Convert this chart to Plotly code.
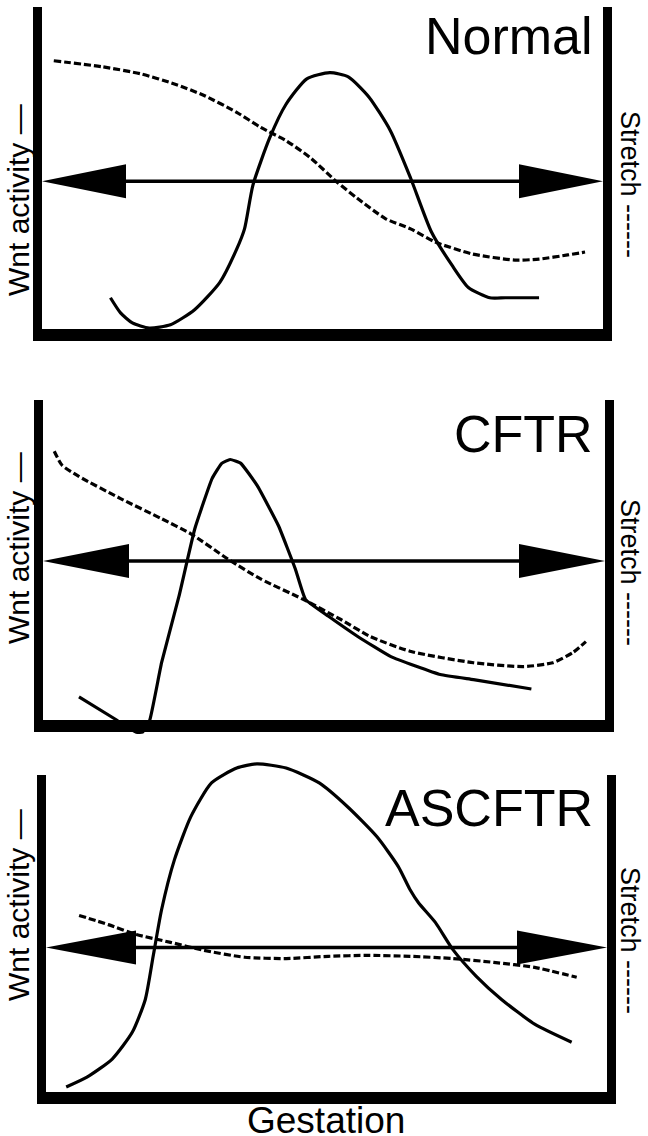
import plotly.graph_objects as go

W, H = 648, 1136
FONT = "Liberation Sans, Arial, sans-serif"

# ---------------- data (gestation 0-100, level 0-100 inside each frame) -------------
titles = ["Normal", "CFTR", "ASCFTR"]
y_label = "Wnt activity \u2014"
y2_label = "Stretch ------"
x_label = "Gestation"

normal_wnt_x = [12.2, 14.0, 16.1, 19.1, 22.9, 27.2, 31.7, 34.7, 36.1, 37.6, 40.6, 43.5, 47.2,
                51.3, 54.6, 58.3, 62.1, 65.7, 69.4, 73.2, 76.0, 79.8, 82.6, 88.6]
normal_wnt_y = [9.7, 5.0, 1.9, 0.3, 1.3, 6.0, 14.5, 24.8, 31.1, 44.7, 59.4, 69.8, 77.7,
                79.6, 78.3, 72.0, 61.6, 46.9, 30.2, 19.5, 12.9, 9.7, 9.7, 9.7]
normal_stretch_x = [2.1, 10.9, 17.7, 23.6, 28.8, 34.7, 39.0, 43.5, 47.9, 52.4, 56.2, 61.2,
                    65.7, 70.1, 76.7, 84.3, 88.6, 93.7, 96.8]
normal_stretch_y = [83.3, 81.4, 79.2, 76.1, 72.6, 67.3, 62.6, 58.5, 53.1, 45.9, 40.6, 34.3,
                    31.1, 27.0, 23.3, 21.4, 21.7, 23.0, 23.9]

cftr_wnt_x = [6.4, 13.1, 16.6, 17.7, 19.0, 21.1, 24.2, 27.0, 30.1, 31.8, 33.3, 35.2, 38.1,
              41.9, 44.9, 46.7, 50.8, 56.0, 61.9, 70.7, 76.6, 86.9]
cftr_wnt_y = [7.2, 0.0, -3.8, -3.8, 0.0, 17.9, 38.7, 59.7, 75.5, 80.2, 81.4, 80.2, 73.3,
              60.7, 47.2, 37.7, 32.4, 26.1, 19.8, 14.2, 12.6, 9.7]
cftr_stretch_x = [2.0, 3.4, 6.4, 13.8, 21.1, 26.3, 32.9, 38.8, 46.3, 53.0, 58.2, 65.5,
                  76.6, 85.5, 90.7, 94.3, 96.6]
cftr_stretch_y = [84.0, 79.6, 76.1, 69.2, 62.9, 58.2, 50.3, 44.0, 37.7, 31.4, 26.1, 21.4,
                  17.9, 16.7, 17.9, 21.1, 24.5]

ascftr_wnt_x = [3.6, 7.3, 11.8, 15.4, 17.7, 19.1, 20.6, 22.9, 25.8, 29.5, 34.0, 37.6, 42.8,
                48.7, 53.8, 59.0, 62.8, 64.9, 66.4, 69.4, 72.5, 76.7, 81.2, 87.1, 93.7]
ascftr_wnt_y = [1.6, 4.7, 10.4, 18.9, 29.2, 42.8, 57.5, 73.3, 86.8, 97.5, 102.2, 103.5, 102.2,
                97.5, 89.9, 80.5, 71.1, 63.8, 59.7, 53.5, 45.0, 36.5, 29.2, 21.4, 15.7]
ascftr_stretch_x = [5.9, 11.1, 16.1, 22.2, 28.1, 35.4, 42.8, 50.3, 57.6, 64.9, 72.5, 79.8,
                    87.1, 94.6]
ascftr_stretch_y = [55.7, 52.8, 49.7, 47.2, 44.7, 42.5, 42.1, 42.8, 43.1, 42.8, 42.1, 40.9,
                    39.3, 36.2]

arrow_levels = [45.9, 49.7, 45.6]

wnt_x = [normal_wnt_x, cftr_wnt_x, ascftr_wnt_x]
wnt_y = [normal_wnt_y, cftr_wnt_y, ascftr_wnt_y]
str_x = [normal_stretch_x, cftr_stretch_x, ascftr_stretch_x]
str_y = [normal_stretch_y, cftr_stretch_y, ascftr_stretch_y]

# ---------------- layout geometry (pixels) -------------
boxes = [(42, 603, 7, 329), (43, 605, 400, 720), (46, 607, 775, 1092)]  # L,R,T,B inner
bands = [(0, 364), (368, 750), (752, 1106)]
bar_w, bar_b = 9, 12
head_len = [84, 86, 90]
head_half = 17
wnt_label_y = [200, 548, 905]
str_label_y = [184, 572, 940]
title_y = [36, 434, 808]

fig = go.Figure()
shapes, annotations = [], []

for i in range(3):
    L, R, T, B = boxes[i]
    sx, sy = (R - L) / 100.0, (B - T) / 100.0
    top, bot = bands[i]
    xa = "xaxis" if i == 0 else f"xaxis{i+1}"
    ya = "yaxis" if i == 0 else f"yaxis{i+1}"
    xr = "x" if i == 0 else f"x{i+1}"
    yr = "y" if i == 0 else f"y{i+1}"
    fig.update_layout({
        xa: dict(domain=[0, 1], range=[(0 - L) / sx, (W - L) / sx], visible=False,
                 anchor=yr, fixedrange=True),
        ya: dict(domain=[1 - bot / H, 1 - top / H], range=[(B - bot) / sy, (B - top) / sy],
                 visible=False, anchor=xr, fixedrange=True),
    })
    fig.add_trace(go.Scatter(x=str_x[i], y=str_y[i], mode="lines", xaxis=xr, yaxis=yr,
                             line=dict(color="black", width=3.2, dash="7px,3px",
                                       shape="spline", smoothing=0.6),
                             showlegend=False, hoverinfo="skip"))
    fig.add_trace(go.Scatter(x=wnt_x[i], y=wnt_y[i], mode="lines", xaxis=xr, yaxis=yr,
                             line=dict(color="black", width=3.2, shape="spline",
                                       smoothing=0.6 if i != 1 else 0.35),
                             showlegend=False, hoverinfo="skip"))
    a = arrow_levels[i]
    hx = head_len[i] / sx
    hy = head_half / sy
    shapes.append(dict(type="line", xref=xr, yref=yr, x0=hx * 0.5, x1=100 - hx * 0.5, y0=a, y1=a,
                       line=dict(color="black", width=3.5)))
    shapes.append(dict(type="path", xref=xr, yref=yr,
                       path=f"M 0,{a} L {hx},{a+hy} L {hx},{a-hy} Z",
                       fillcolor="black", line=dict(width=0)))
    shapes.append(dict(type="path", xref=xr, yref=yr,
                       path=f"M 100,{a} L {100-hx},{a+hy} L {100-hx},{a-hy} Z",
                       fillcolor="black", line=dict(width=0)))
    bw, bb = bar_w / sx, bar_b / sy
    for (x0, x1, y0, y1) in [(-bw, 0, -bb, 100), (100, 100 + bw, -bb, 100),
                             (-bw, 100 + bw, -bb, 0)]:
        shapes.append(dict(type="rect", xref=xr, yref=yr, x0=x0, x1=x1, y0=y0, y1=y1,
                           fillcolor="black", line=dict(width=0), layer="above"))
    annotations.append(dict(text=titles[i], xref="paper", yref="paper", x=595 / W,
                            y=1 - title_y[i] / H, xanchor="right", yanchor="middle",
                            showarrow=False, font=dict(family=FONT, size=52, color="black")))
    annotations.append(dict(text=y_label, xref="paper", yref="paper", x=18 / W,
                            y=1 - wnt_label_y[i] / H, xanchor="center", yanchor="middle",
                            textangle=-90, showarrow=False,
                            font=dict(family=FONT, size=30, color="black")))
    annotations.append(dict(text=y2_label, xref="paper", yref="paper", x=630 / W,
                            y=1 - str_label_y[i] / H, xanchor="center", yanchor="middle",
                            textangle=90, showarrow=False,
                            font=dict(family=FONT, size=27, color="black")))

annotations.append(dict(text=x_label, xref="paper", yref="paper", x=326 / W, y=1 - 1120 / H,
                        xanchor="center", yanchor="middle", showarrow=False, borderpad=0,
                        font=dict(family=FONT, size=37, color="black")))

fig.update_layout(width=W, height=H, margin=dict(l=0, r=0, t=0, b=0),
                  paper_bgcolor="white", plot_bgcolor="white",
                  shapes=shapes, annotations=annotations, showlegend=False)

fig.write_html("out.html", config={"displayModeBar": False, "staticPlot": True},
               post_script="document.body.style.margin='0';document.body.style.overflow='hidden';")
